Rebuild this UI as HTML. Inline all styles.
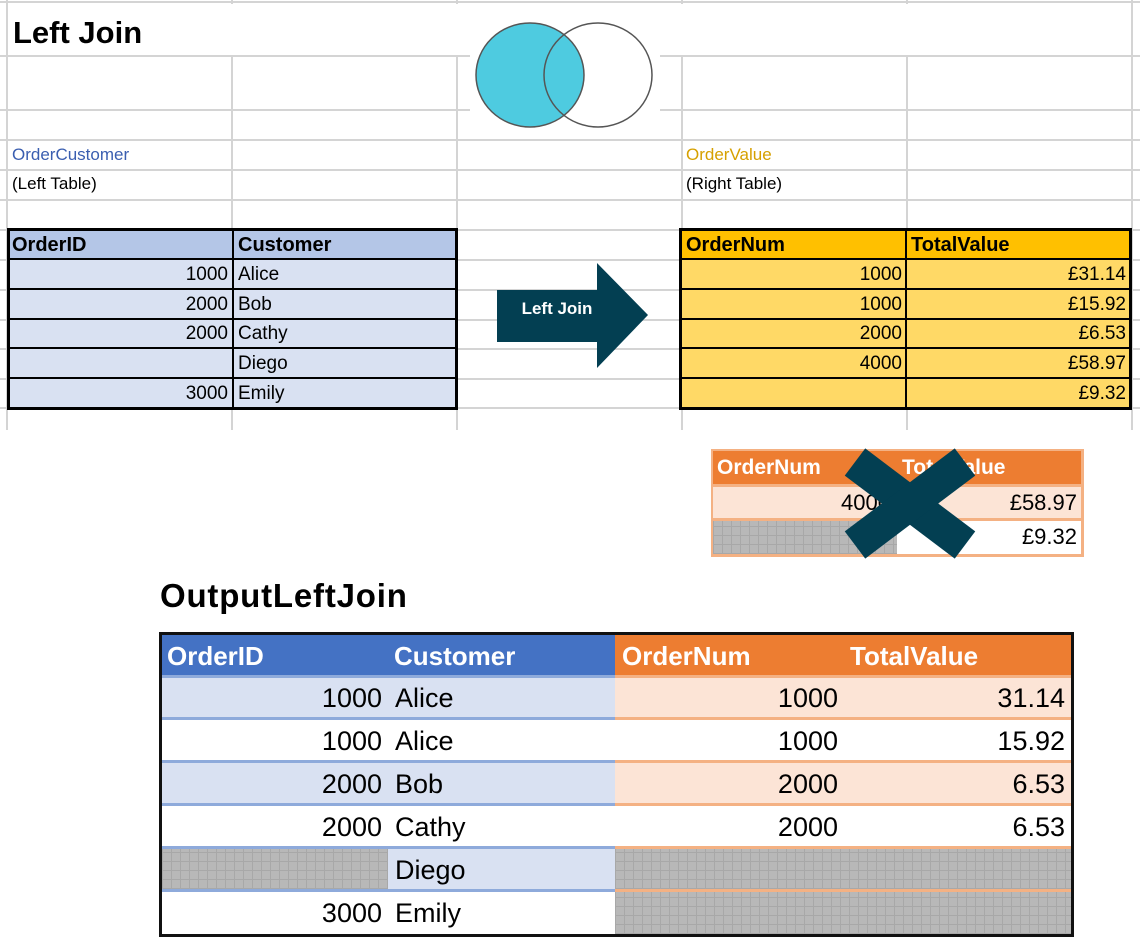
<!DOCTYPE html>
<html><head><meta charset="utf-8"><style>
body{margin:0;width:1140px;height:950px;background:#fff;position:relative;overflow:hidden;font-family:"Liberation Sans",sans-serif}
.a{position:absolute;box-sizing:border-box}
.t{position:absolute;white-space:nowrap;line-height:1}
.gray{background-color:#b8b8b8;background-image:repeating-linear-gradient(0deg,#a8a8a8 0 1px,transparent 1px 9px),repeating-linear-gradient(90deg,#a8a8a8 0 1px,transparent 1px 9px)}
</style></head><body>
<svg class="a" style="left:0;top:0" width="1140" height="432">
<g stroke="#d4d4d4" stroke-width="2">
<line x1="7" y1="0" x2="7" y2="430"/><line x1="232" y1="0" x2="232" y2="430"/><line x1="457" y1="0" x2="457" y2="430"/><line x1="682" y1="0" x2="682" y2="430"/><line x1="907" y1="0" x2="907" y2="430"/><line x1="1132" y1="0" x2="1132" y2="430"/>
<line x1="0" y1="2" x2="1140" y2="2"/><line x1="0" y1="56" x2="1140" y2="56"/><line x1="0" y1="110" x2="1140" y2="110"/><line x1="0" y1="140" x2="1140" y2="140"/><line x1="0" y1="170" x2="1140" y2="170"/><line x1="0" y1="200" x2="1140" y2="200"/><line x1="0" y1="230" x2="1140" y2="230"/><line x1="0" y1="260" x2="1140" y2="260"/><line x1="0" y1="290" x2="1140" y2="290"/><line x1="0" y1="320" x2="1140" y2="320"/><line x1="0" y1="349" x2="1140" y2="349"/><line x1="0" y1="379" x2="1140" y2="379"/><line x1="0" y1="408" x2="1140" y2="408"/>
</g>
<rect x="8" y="4" width="1123" height="51" fill="#fff"/>
<rect x="470" y="4" width="190" height="130" fill="#fff"/>
<ellipse cx="530" cy="75" rx="54" ry="52" fill="#4ecbe0" stroke="#555" stroke-width="1.5"/>
<ellipse cx="598" cy="75" rx="54" ry="52" fill="none" stroke="#555" stroke-width="1.5"/>
<polygon points="497,290 597,290 597,263 648,315 597,368 597,342 497,342" fill="#033f52"/>
<text x="557" y="314" fill="#fff" font-family="Liberation Sans" font-weight="bold" font-size="17" text-anchor="middle">Left Join</text>
</svg>
<div class="t" style="left:13px;top:17px;font-size:31px;font-weight:bold">Left Join</div>
<div class="t" style="left:12px;top:146px;font-size:17px;color:#3a5eb0">OrderCustomer</div>
<div class="t" style="left:12px;top:175px;font-size:17px">(Left Table)</div>
<div class="t" style="left:686px;top:146px;font-size:17px;color:#d6a000">OrderValue</div>
<div class="t" style="left:686px;top:175px;font-size:17px">(Right Table)</div>

<!-- tables backgrounds -->
<div class="a" style="left:7px;top:228px;width:451px;height:182px;background:#d9e1f2;border:3px solid #000"></div>
<div class="a" style="left:10px;top:231px;width:445px;height:28px;background:#b4c6e7"></div>
<div class="a" style="left:679px;top:228px;width:453px;height:182px;background:#ffd966;border:3px solid #000"></div>
<div class="a" style="left:682px;top:231px;width:447px;height:28px;background:#ffc000"></div>
<svg class="a" style="left:0;top:0" width="1140" height="432"><g stroke="#000" stroke-width="2">
<line x1="8" y1="259" x2="457" y2="259"/><line x1="8" y1="289" x2="457" y2="289"/><line x1="8" y1="319" x2="457" y2="319"/><line x1="8" y1="348" x2="457" y2="348"/><line x1="8" y1="378" x2="457" y2="378"/><line x1="233" y1="230" x2="233" y2="408"/>
<line x1="681" y1="259" x2="1130" y2="259"/><line x1="681" y1="289" x2="1130" y2="289"/><line x1="681" y1="319" x2="1130" y2="319"/><line x1="681" y1="348" x2="1130" y2="348"/><line x1="681" y1="378" x2="1130" y2="378"/><line x1="906" y1="230" x2="906" y2="408"/></g></svg>
<div class="t" style="left:12px;top:235px;font-size:20px;font-weight:bold">OrderID</div>
<div class="t" style="left:238px;top:235px;font-size:20px;font-weight:bold">Customer</div>
<div class="t" style="left:100px;width:128px;text-align:right;top:265px;font-size:19px">1000</div>
<div class="t" style="left:100px;width:128px;text-align:right;top:295px;font-size:19px">2000</div>
<div class="t" style="left:100px;width:128px;text-align:right;top:324px;font-size:19px">2000</div>
<div class="t" style="left:100px;width:128px;text-align:right;top:384px;font-size:19px">3000</div>
<div class="t" style="left:238px;top:265px;font-size:19px">Alice</div>
<div class="t" style="left:238px;top:295px;font-size:19px">Bob</div>
<div class="t" style="left:238px;top:324px;font-size:19px">Cathy</div>
<div class="t" style="left:238px;top:354px;font-size:19px">Diego</div>
<div class="t" style="left:238px;top:384px;font-size:19px">Emily</div>

<div class="t" style="left:686px;top:235px;font-size:20px;font-weight:bold">OrderNum</div>
<div class="t" style="left:911px;top:235px;font-size:20px;font-weight:bold">TotalValue</div>
<div class="t" style="left:760px;width:142px;text-align:right;top:265px;font-size:19px">1000</div>
<div class="t" style="left:760px;width:142px;text-align:right;top:295px;font-size:19px">1000</div>
<div class="t" style="left:760px;width:142px;text-align:right;top:324px;font-size:19px">2000</div>
<div class="t" style="left:760px;width:142px;text-align:right;top:354px;font-size:19px">4000</div>
<div class="t" style="left:960px;width:166px;text-align:right;top:265px;font-size:19px">£31.14</div>
<div class="t" style="left:960px;width:166px;text-align:right;top:295px;font-size:19px">£15.92</div>
<div class="t" style="left:960px;width:166px;text-align:right;top:324px;font-size:19px">£6.53</div>
<div class="t" style="left:960px;width:166px;text-align:right;top:354px;font-size:19px">£58.97</div>
<div class="t" style="left:960px;width:166px;text-align:right;top:384px;font-size:19px">£9.32</div>

<!-- crossed table -->
<div class="a" style="left:711px;top:449px;width:373px;height:108px;background:#f4b183"></div>
<div class="a" style="left:713px;top:451px;width:368px;height:33px;background:#ed7d31"></div>
<div class="a" style="left:713px;top:487px;width:368px;height:31px;background:#fce4d6"></div>
<div class="a gray" style="left:713px;top:521px;width:184px;height:33px"></div>
<div class="a" style="left:897px;top:521px;width:184px;height:33px;background:#fff"></div>
<div class="t" style="left:717px;top:457px;font-size:21px;font-weight:bold;color:#fff">OrderNum</div>
<div class="t" style="left:902px;top:457px;font-size:21px;font-weight:bold;color:#fff">TotalValue</div>
<div class="t" style="left:760px;width:130px;text-align:right;top:492px;font-size:22px">4000</div>
<div class="t" style="left:900px;width:177px;text-align:right;top:492px;font-size:22px">£58.97</div>
<div class="t" style="left:900px;width:177px;text-align:right;top:526px;font-size:22px">£9.32</div>
<svg class="a" style="left:0;top:0" width="1140" height="600"><g stroke="#033f52" stroke-width="34"><line x1="855" y1="462" x2="965" y2="545"/><line x1="965" y1="462" x2="855" y2="545"/></g></svg>

<!-- output -->
<div class="t" style="left:160px;top:579px;font-size:33px;font-weight:bold;letter-spacing:0.8px">OutputLeftJoin</div>
<div class="a" style="left:159px;top:632px;width:915px;height:305px;border:3px solid #111;background:#fff"></div>
<div class="a" style="left:162px;top:635px;width:453px;height:40px;background:#4472c4"></div>
<div class="a" style="left:615px;top:635px;width:456px;height:40px;background:#ed7d31"></div>
<div class="a" style="left:162px;top:675px;width:453px;height:45px;background:#d9e1f2;border-top:3px solid #8eaadb;border-bottom:3px solid #8eaadb"></div>
<div class="a" style="left:615px;top:675px;width:456px;height:45px;background:#fce4d6;border-top:3px solid #f4b183;border-bottom:3px solid #f4b183"></div>
<div class="a" style="left:162px;top:760px;width:453px;height:46px;background:#d9e1f2;border-top:3px solid #8eaadb;border-bottom:3px solid #8eaadb"></div>
<div class="a" style="left:615px;top:760px;width:456px;height:46px;background:#fce4d6;border-top:3px solid #f4b183;border-bottom:3px solid #f4b183"></div>
<div class="a" style="left:162px;top:846px;width:453px;height:46px;background:#d9e1f2;border-top:3px solid #8eaadb;border-bottom:3px solid #8eaadb"></div>
<div class="a gray" style="left:162px;top:849px;width:226px;height:40px"></div>
<div class="a gray" style="left:615px;top:849px;width:456px;height:85px"></div>
<div class="a" style="left:615px;top:846px;width:456px;height:3px;background:#f4b183"></div>
<div class="a" style="left:615px;top:889px;width:456px;height:3px;background:#f4b183"></div>
<div class="t" style="left:167px;top:643px;font-size:26px;font-weight:bold;color:#fff">OrderID</div>
<div class="t" style="left:394px;top:643px;font-size:26px;font-weight:bold;color:#fff">Customer</div>
<div class="t" style="left:622px;top:643px;font-size:26px;font-weight:bold;color:#fff">OrderNum</div>
<div class="t" style="left:850px;top:643px;font-size:26px;font-weight:bold;color:#fff">TotalValue</div>
<div class="t" style="left:260px;width:122px;text-align:right;top:685px;font-size:27px">1000</div>
<div class="t" style="left:260px;width:122px;text-align:right;top:728px;font-size:27px">1000</div>
<div class="t" style="left:260px;width:122px;text-align:right;top:771px;font-size:27px">2000</div>
<div class="t" style="left:260px;width:122px;text-align:right;top:814px;font-size:27px">2000</div>
<div class="t" style="left:260px;width:122px;text-align:right;top:900px;font-size:27px">3000</div>
<div class="t" style="left:395px;top:685px;font-size:27px">Alice</div>
<div class="t" style="left:395px;top:728px;font-size:27px">Alice</div>
<div class="t" style="left:395px;top:771px;font-size:27px">Bob</div>
<div class="t" style="left:395px;top:814px;font-size:27px">Cathy</div>
<div class="t" style="left:395px;top:857px;font-size:27px">Diego</div>
<div class="t" style="left:395px;top:900px;font-size:27px">Emily</div>
<div class="t" style="left:700px;width:138px;text-align:right;top:685px;font-size:27px">1000</div>
<div class="t" style="left:700px;width:138px;text-align:right;top:728px;font-size:27px">1000</div>
<div class="t" style="left:700px;width:138px;text-align:right;top:771px;font-size:27px">2000</div>
<div class="t" style="left:700px;width:138px;text-align:right;top:814px;font-size:27px">2000</div>
<div class="t" style="left:900px;width:165px;text-align:right;top:685px;font-size:27px">31.14</div>
<div class="t" style="left:900px;width:165px;text-align:right;top:728px;font-size:27px">15.92</div>
<div class="t" style="left:900px;width:165px;text-align:right;top:771px;font-size:27px">6.53</div>
<div class="t" style="left:900px;width:165px;text-align:right;top:814px;font-size:27px">6.53</div>
</body></html>
